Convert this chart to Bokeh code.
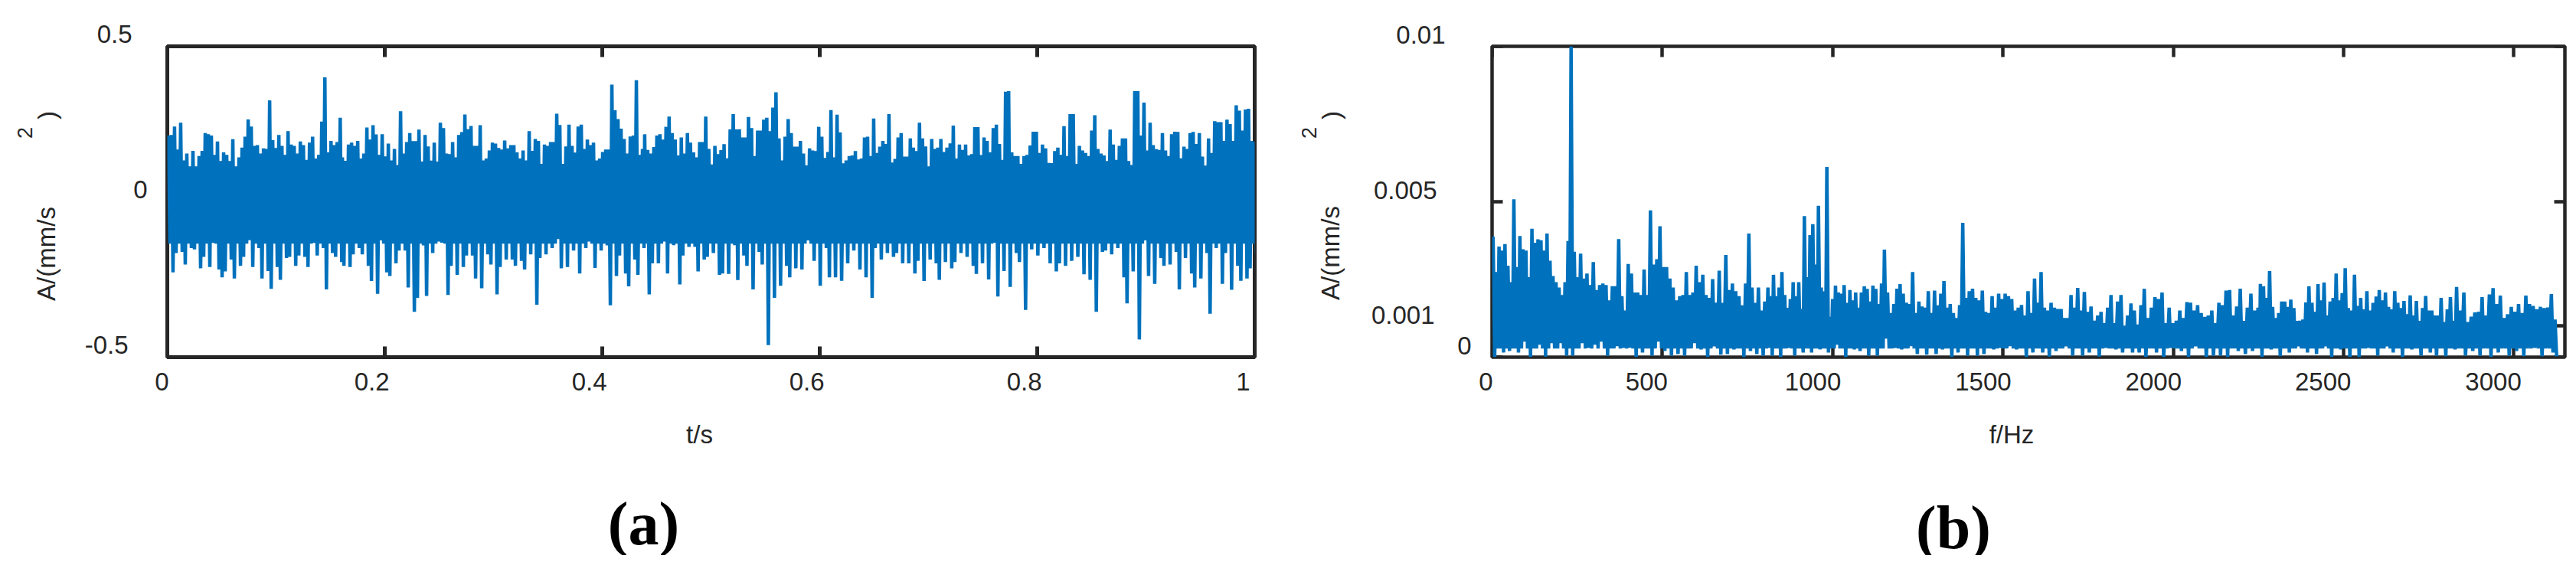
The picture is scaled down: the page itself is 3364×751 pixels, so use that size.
import numpy as np
from bokeh.core.properties import value
from bokeh.embed import file_html
from bokeh.resources import INLINE
from bokeh.layouts import row
from bokeh.plotting import figure
from bokeh.models import Range1d, LinearAxis, FixedTicker

# ---- panel (a): time signal, acceleration in 0.001 mm/s^2
a_upper_1 = [213,215,242,168,254,133,155,114,164,114,147,164,221,217,213,151,194,131,159,151,131,201,114,143,174,209,265,242,180,182,155,172,170,326,198,173,215,180,151,227,184,180,155,194,182,135,190,209,139,151,258,400,159,196,182,192,270]
a_upper_2 = [143,132,184,190,180,196,139,155,239,200,246,217,151,217,146,187,133,170,118,291,155,192,221,195,195,232,129,215,178,132,190,129,254,237,155,153,192,143,215,224,281,233,244,180,180,246,133,139,165,190,187,173,168,197,172,182,182,159,139,165,133,227,164,202,196,122,184,180,192,192,283,247,122,178,248,180,158,242,248,170,200,182,190,133,139,160,168,168,377,294,266,235,202,155,210,213,391,151,170]
a_upper_3 = [217,167,155,176,213,217,200,241,274,221,200,149,207,155,221,190,159,143,192,192,274,170,120,180,153,166,185,140,233,282,233,233,207,207,273,237,147,229,229,264,270,227,303,352,204,133,209,266,221,177,177,196,155,117,172,165,163,241,209,141,160,295,143,280,223,124,133,147,149,163,136,139,207,209,147,268,157,177,196,186,282,126,138,207,221,145,145,204,174,163,254,204,178,114,202,170,174,202,160,174]
a_upper_4 = [188,245,139,184,167,184,149,153,240,240,150,207,196,159,237,248,186,135,354,356,159,147,147,122,147,151,181,225,225,157,184,172,125,124,163,174,151,243,147,282,282,122,180,165,157,147,229,278,170,155,149,131,232,184,135,180,204,204,131,118,356,356,213,319,165,254,182,169,167,221,165,147,217,225,225,140,177,170,221,225,186,221,145,116,204,157,259,256,256,196,264,250,196,310,293,229,297,299,196,192]
a_lower_1 = [-227,-165,-161,-202,-149,-153,-214,-177,-210,-132,-218,-243,-224,-186,-247,-206,-177,-124,-210,-149,-247,-223,-280,-210,-251,-181,-177,-206,-173,-177,-210,-132,-173,-149,-282,-165,-177,-194,-206,-210,-169,-149,-169,-206,-255,-296,-124,-227,-239,-198,-157,-157,-276,-354,-309,-140,-303,-165,-128,-132,-300,-206,-235,-210,-173,-173,-247,-278,-169,-202,-298,-210,-186,-186,-206,-190,-218,-169,-331,-181,-169,-149,-120,-214,-210,-157,-231,-149,-128,-213,-157,-140,-333,-239,-173,-231,-272,-186,-235,-149,-298,-173]
a_lower_2 = [-198,-198,-128,-231,-140,-266,-173,-145,-145,-224,-186,-177,-165,-235,-231,-232,-140,-252,-173,-206,-282,-161,-202,-461,-309,-270,-206,-243,-214,-218,-124,-190,-270,-149,-243,-243,-254,-198,-157,-218,-243,-309,-149,-186,-165,-177,-165,-198,-198,-231,-190,-255,-186,-198,-251,-194,-214,-194,-165,-177,-206,-232,-198,-250,-132,-305,-223,-274,-165,-194,-348,-153,-173,-149,-198,-224,-198,-206,-190,-177,-233,-251,-354,-161,-157,-169,-149,-243,-327,-224,-443,-124,-239,-264,-181,-206,-202,-161,-282,-181,-231,-276,-247,-165,-360,-149,-264,-165,-283,-206,-254,-247,-214,-165]
a_lower_1_idx = [0, 34, 53, 78, 92, 101]
a_lower_1_t = [0.0016, 0.1437, 0.223, 0.336, 0.4056, 0.4437]
a_lower_2_idx = [0, 23, 41, 70, 82, 90, 113]
a_lower_2_t = [0.4445, 0.550, 0.644, 0.7865, 0.851, 0.891, 0.999]
a_floor = -135
a_xticks = [0, 0.2, 0.4, 0.6, 0.8, 1]
a_xticklabels = ["0", "0.2", "0.4", "0.6", "0.8", "1"]
a_yticks = [-0.5, 0, 0.5]
a_yticklabels = ["-0.5", "0", "0.5"]

# ---- panel (b): spectrum, amplitude in 0.00001 mm/s^2
b_upper_1 = [388,274,356,343,364,294,241,508,290,390,347,343,257,413,368,379,376,343,398,310,261,241,224,200,241,374,1000,339,257,333,253,269,232,306,216,232,237,232,183,228,228,380,196,150,300,269,208,208,200,282,200,472,298,315,421,290,290,253,224,183,196,200,274,200,208,294,241,265,200,191,251,175,278,175,329,216,237,212,196,167,237,398,224,175,224,150,179,224]
b_upper_2 = [196,265,196,224,274,200,159,187,241,196,241,155,454,257,393,428,298,487,224,212,612,130,187,230,208,204,232,175,216,183,208,159,208,228,220,179,230,220,171,237,346,208,142,171,220,235,204,175,171,274,142,179,163,159,212,142,214,167,204,245,159,171,142,126,167,432,191,212,220,191,183,214,146,142,196,159,204,187,204,196,187,150,159,168,134,212,142,253,175,274,159,150,175,159,155,155,126,126,200,159,223,150,210,146,163,117,134,146,109,159,200,109,179,200,101,134,173,150,105,167,220,126,159,193,187,208,109,159,109,117,150,126,177,175,150,167,142,130,134,150,109,175,167,214,216,134,163,220,117,159,204,150,159]
b_upper_3 = [236,228,191,277,162,126,142,179,179,162,185,158,117,117,121,176,228,175,146,235,183,240,134,179,191,269,183,206,286,158,150,265,165,191,154,212,150,175,195,216,183,208,162,154,212,175,158,181,138,199,134,181,117,158,197,150,150,134,134,191,113,154,193,117,226,150,208,113,130,144,146,193,134,202,222,171,198,126,138,162,146,171,142,198,171,165,154,162,158,160,203,121]
b_upper_1_idx = [0, 7, 26, 54, 81, 87]
b_upper_1_f = [3, 64, 232, 493, 754, 810]
b_upper_2_idx = [0, 20, 40, 65, 89, 120, 152]
b_upper_2_f = [818, 983, 1152, 1382, 1612, 1915, 2249]
b_upper_3_idx = [0, 3, 28, 64, 91]
b_upper_3_f = [2256, 2283, 2505, 2832, 3121]
b_lower_1 = [0,15,20,15,50,0,40,2,45,45,5,5,45,30,40,50,5,35,30,30,0,15,5,50,20,5,10,5,45,25,0,35,8,10,25,0,20,10,5,30]
b_lower_2 = [5,0,30,5,15,15,25,15,40,0,25,20,5,5,60,30,25,35,10,8,10,25,0,15,5,5,10,25,30,35,25,0,15,15,2,20,35,5,5,15,2,30,25,15,15,15,0,15,0,30,20,0,35,0,5,5,0,20,10,20,30]
b_lower_3 = [0,25,3,15,35,15,10,35,0,25,0,0,30,5,35,15,0,25,5,15,5,3,25,5,20,5,0,15,5,20,3,30,3,15,3]
b_floor = 28
b_xticks = [0, 500, 1000, 1500, 2000, 2500, 3000]
b_xticklabels = ["0", "500", "1000", "1500", "2000", "2500", "3000"]
b_yticks = [0, 0.001, 0.005, 0.01]
b_yticklabels = ["0", "0.001", "0.005", "0.01"]

BLUE = "#0071BC"
INK = "#262626"
FONT = "Liberation Sans"
FS = "33px"


def spread(parts, edges):
    return np.concatenate([np.linspace(e[0], e[1], len(q)) for q, e in zip(parts, edges)])


def place(values, idx, at):
    return np.interp(np.arange(len(values)), idx, at)


def weave(tu, up, tl, low, floor):
    """One line that alternates between the read upper peaks and lower peaks."""
    tu, up, tl, low = map(np.asarray, (tu, up, tl, low))
    base = np.full(len(tu), float(floor))
    slot = np.clip(np.searchsorted(tu, tl), 0, len(tu) - 1)
    for s, v in zip(slot, low):
        base[s] = v
    step = np.median(np.diff(tu)) / 2
    x = np.empty(2 * len(tu))
    y = np.empty(2 * len(tu))
    x[0::2], y[0::2] = tu, up
    x[1::2], y[1::2] = tu + step, base
    return x, y


def frame(p, xticks, yticks, lw):
    p.grid.visible = False
    p.outline_line_color = INK
    p.outline_line_width = lw
    for ax, loc, ticks in (
        (LinearAxis(), "below", xticks),
        (LinearAxis(), "left", yticks),
        (LinearAxis(), "above", xticks),
        (LinearAxis(), "right", yticks),
    ):
        ax.ticker = FixedTicker(ticks=ticks)
        ax.major_label_overrides = {t: "" for t in ticks}
        ax.major_label_standoff = 0
        ax.axis_line_color = None
        ax.major_tick_line_color = INK
        ax.major_tick_line_width = lw
        ax.major_tick_in = 14
        ax.major_tick_out = 0
        ax.minor_tick_line_color = None
        ax.level = "underlay"
        p.add_layout(ax, loc)


def txt(p, x, y, s, dx=0, dy=0, align="center", angle=0, size=FS, font=FONT, style="normal", color=INK):
    p.text(x=[x], y=[y], text=[s], x_offset=dx, y_offset=-dy, text_align=align, text_baseline="middle",
           angle=np.deg2rad(angle), text_font=value(font), text_font_size=value(size),
           text_font_style=style, text_color=color, level="overlay")


# ---------------- panel (a)
p1 = figure(width=1700, height=725, frame_width=1420, frame_height=406, output_backend="svg", toolbar_location=None,
            x_range=Range1d(0, 1), y_range=Range1d(-0.5, 0.5), x_axis_location=None, y_axis_location=None,
            min_border_left=218, min_border_right=62, min_border_top=60, min_border_bottom=259)
frame(p1, a_xticks, a_yticks, 5)
ta_u = spread([a_upper_1, a_upper_2, a_upper_3, a_upper_4], [(0.001, 0.159), (0.161, 0.437), (0.439, 0.717), (0.720, 1.0)])
ta_l = np.concatenate([place(a_lower_1, a_lower_1_idx, a_lower_1_t), place(a_lower_2, a_lower_2_idx, a_lower_2_t)])
xa, ya = weave(ta_u, np.array(a_upper_1 + a_upper_2 + a_upper_3 + a_upper_4) / 1000, ta_l,
               np.array(a_lower_1 + a_lower_2) / 1000, a_floor / 1000)
p1.line(xa, ya, line_color=BLUE, line_width=4.5, line_join="bevel")

for t, s, dx in zip(a_xticks, a_xticklabels, [2, 6, 6, 6, 6, -6]):
    txt(p1, t, -0.5, s, dx=dx, dy=-32, align="right")
for t, s, dx in zip(a_yticks, a_yticklabels, [-51, -26, -46]):
    txt(p1, 0, t, s, dx=dx, dy=16, align="right")
txt(p1, 0, 0, "A/(mm/s", dx=-158, dy=-68, angle=90)
txt(p1, 0, 0, "2", dx=-186, dy=90, angle=90, size="27px")
txt(p1, 0, 0, ")", dx=-157, dy=113, angle=90)
txt(p1, 0.5, -0.5, "t/s", dx=-15, dy=-101)
txt(p1, 0.5, -0.5, "(a)", dx=-88, dy=-217, size="80px", font="Liberation Serif", style="bold", color="#000000")

# ---------------- panel (b)
p2 = figure(width=1656, height=725, frame_width=1401, frame_height=406, output_backend="svg", toolbar_location=None,
            x_range=Range1d(0, 3150), y_range=Range1d(0, 0.01), x_axis_location=None, y_axis_location=None,
            min_border_left=248, min_border_right=7, min_border_top=55, min_border_bottom=264)
frame(p2, b_xticks, b_yticks, 4.5)
tb_u = np.concatenate([place(b_upper_1, b_upper_1_idx, b_upper_1_f), place(b_upper_2, b_upper_2_idx, b_upper_2_f),
                       place(b_upper_3, b_upper_3_idx, b_upper_3_f)])
tb_l = spread([b_lower_1, b_lower_2, b_lower_3], [(3, 808), (812, 2250), (2255, 3127)])
xb, yb = weave(tb_u, np.array(b_upper_1 + b_upper_2 + b_upper_3) / 1e5, tb_l,
               np.array(b_lower_1 + b_lower_2 + b_lower_3) / 1e5, b_floor / 1e5)
p2.line(xb, yb, line_color=BLUE, line_width=4.5, line_join="bevel")

for t, s, dx in zip(b_xticks, b_xticklabels, [1, 7, 11, 11, 11, 10, 10]):
    txt(p2, t, 0, s, dx=dx, dy=-32, align="right")
for t, s, dx, dy in zip(b_yticks, b_yticklabels, [-27, -75, -72, -61], [15, 14, 15, 15]):
    txt(p2, 0, t, s, dx=dx, dy=dy, align="right")
txt(p2, 0, 0.005, "A/(mm/s", dx=-211, dy=-67, angle=90)
txt(p2, 0, 0.005, "2", dx=-239, dy=90, angle=90, size="27px")
txt(p2, 0, 0.005, ")", dx=-210, dy=113, angle=90)
txt(p2, 1575, 0, "f/Hz", dx=-22, dy=-101)
txt(p2, 1575, 0, "(b)", dx=-98, dy=-222, size="80px", font="Liberation Serif", style="bold", color="#000000")

open("out.html", "w").write(file_html(row(p1, p2), INLINE))
